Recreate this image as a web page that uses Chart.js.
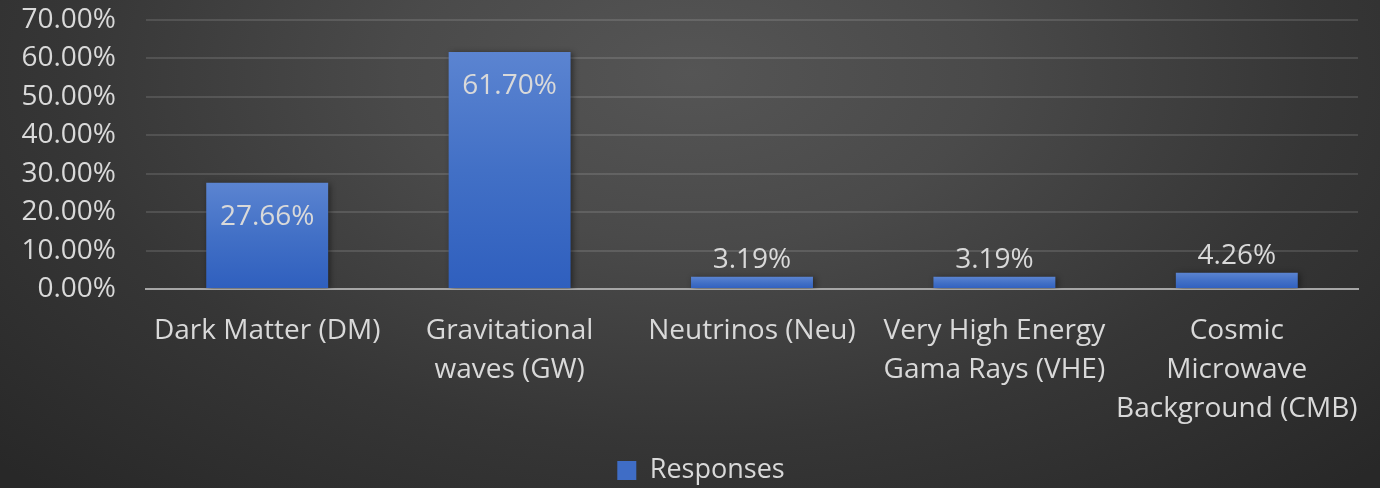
<!DOCTYPE html>
<html>
<head>
<meta charset="utf-8">
<script src="https://cdn.jsdelivr.net/npm/chart.js@4.4.1/dist/chart.umd.min.js"></script>
<style>
  html, body { margin: 0; padding: 0; }
  body { width: 1380px; height: 488px; overflow: hidden; }
  #wrap {
    position: relative; width: 1380px; height: 488px;
    background: radial-gradient(ellipse 70% 115% at 50% 15%, #555555 0%, #4a4a4a 30%, #363636 65%, #282828 100%);
  }
  canvas { display: block; }
</style>
</head>
<body>
<div id="wrap"><canvas id="c" width="1380" height="488"></canvas></div>
<script>
// Survey categories (multi-line axis labels) and share of responses in percent
const categories = [
  ["Dark Matter (DM)"],
  ["Gravitational", "waves (GW)"],
  ["Neutrinos (Neu)"],
  ["Very High Energy", "Gama Rays (VHE)"],
  ["Cosmic", "Microwave", "Background (CMB)"]
];
const responses = [27.66, 61.70, 3.19, 3.19, 4.26];
const seriesName = "Responses";
const yTicks = [0, 10, 20, 30, 40, 50, 60, 70];

const FONT = "'Open Sans', 'Noto Sans', sans-serif";
const TEXT = "#d9d9d9";
const FS = 28;

function barGradient(ctx) {
  const chart = ctx.chart;
  const area = chart.chartArea;
  if (!area || ctx.type !== 'data') return '#4472c4';
  const y = chart.scales.y;
  const top = y.getPixelForValue(ctx.raw);
  const bottom = y.getPixelForValue(0);
  if (bottom - top < 1) return '#4472c4';
  const g = chart.ctx.createLinearGradient(0, top, 0, bottom);
  g.addColorStop(0, '#5b84d1');
  g.addColorStop(0.5, '#4270c6');
  g.addColorStop(1, '#2f5fbe');
  return g;
}

// Value labels: inside the top of tall bars, above short ones
const valueLabels = {
  id: 'valueLabels',
  afterDatasetsDraw(chart) {
    const ctx = chart.ctx;
    const meta = chart.getDatasetMeta(0);
    ctx.save();
    ctx.font = `${FS}px ${FONT}`;
    ctx.fillStyle = TEXT;
    ctx.textAlign = 'center';
    ctx.textBaseline = 'middle';
    meta.data.forEach((bar, i) => {
      const v = responses[i];
      const h = bar.base - bar.y;
      const text = v.toFixed(2) + '%';
      const y = h > 60 ? bar.y + 34 : bar.y - 17;
      ctx.fillText(text, bar.x, y);
    });
    ctx.restore();
  }
};

// Soft shadow behind each bar
const barShadow = {
  id: 'barShadow',
  beforeDatasetsDraw(chart) {
    const ctx = chart.ctx;
    ctx.save();
    ctx.shadowColor = 'rgba(0,0,0,0.45)';
    ctx.shadowBlur = 6;
    ctx.shadowOffsetX = 2;
    ctx.shadowOffsetY = 1;
  },
  afterDatasetsDraw(chart) {
    chart.ctx.restore();
  }
};

// Centre the legend on the whole canvas rather than the padded area
const legendNudge = {
  id: 'legendNudge',
  afterLayout(chart) {
    const lg = chart.legend;
    if (!lg) return;
    lg.left += 22; lg.right += 22;
    lg.top += 6; lg.bottom += 6;
  }
};

new Chart(document.getElementById('c'), {
  type: 'bar',
  data: {
    labels: categories,
    datasets: [{
      label: seriesName,
      data: responses,
      backgroundColor: barGradient,
      borderWidth: 0,
      categoryPercentage: 1,
      barPercentage: 0.503
    }]
  },
  options: {
    responsive: false,
    animation: false,
    devicePixelRatio: 1,
    layout: { padding: { left: 0, right: 22, top: 20, bottom: 0 } },
    plugins: {
      legend: {
        position: 'bottom',
        labels: {
          color: TEXT,
          font: { family: FONT, size: 27 },
          boxWidth: 19,
          boxHeight: 19,
          padding: 4,
          generateLabels: (chart) => [{
            text: seriesName,
            fillStyle: '#3f6dc6',
            strokeStyle: '#3f6dc6',
            lineWidth: 0,
            fontColor: TEXT,
            datasetIndex: 0
          }]
        }
      },
      tooltip: { enabled: false }
    },
    scales: {
      x: {
        grid: { display: false, drawTicks: false },
        border: { display: true, color: '#a6a6a6', width: 2 },
        afterFit: (scale) => {
          scale.height = 158;
          scale.paddingLeft = 0;
          scale.paddingRight = 0;
        },
        ticks: {
          color: TEXT,
          font: { family: FONT, size: FS, lineHeight: 1.4 },
          padding: 22,
          maxRotation: 0,
          autoSkip: false
        }
      },
      y: {
        min: 0,
        max: 70,
        afterBuildTicks: (scale) => { scale.ticks = yTicks.map(v => ({ value: v })); },
        afterFit: (scale) => {
          scale.width = 146;
          scale.paddingTop = 0;
          scale.paddingBottom = 0;
        },
        grid: { color: 'rgba(255,255,255,0.12)', lineWidth: 2, drawTicks: false },
        border: { display: false },
        ticks: {
          color: TEXT,
          font: { family: FONT, size: FS },
          padding: 30,
          autoSkip: false,
          callback: (v) => Number(v).toFixed(2) + '%'
        }
      }
    }
  },
  plugins: [barShadow, valueLabels, legendNudge]
});
</script>
</body>
</html>
